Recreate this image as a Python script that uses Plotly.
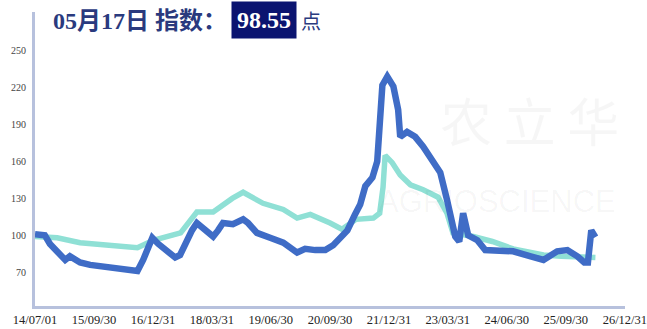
import plotly.graph_objects as go

# ---- data ----
blue_dates = ["2014-07-01","2014-09-15","2014-10-25","2014-12-05","2015-01-12","2015-02-20","2015-03-28",
              "2015-05-05","2015-06-15","2015-09-01","2015-11-15","2016-02-01","2016-04-20","2016-07-05",
              "2016-09-01","2016-10-15","2016-11-25","2016-12-25","2017-02-10","2017-04-05","2017-06-20",
              "2017-07-28","2017-09-05","2017-10-28","2017-12-05","2018-02-08","2018-04-10","2018-05-18",
              "2018-06-25","2018-09-10","2018-11-28","2019-01-05","2019-03-15","2019-06-25","2019-10-05",
              "2020-01-20","2020-03-22","2020-06-08","2020-08-25","2020-10-25","2020-12-20","2021-02-12",
              "2021-04-12","2021-05-22","2021-07-01","2021-08-25","2021-10-01","2021-11-10","2021-12-18",
              "2022-02-03","2022-03-12","2022-03-28","2022-05-20","2022-07-22","2022-09-22","2022-12-01",
              "2023-02-01","2023-03-25","2023-05-28","2023-06-28","2023-07-28","2023-09-05","2023-11-15",
              "2024-01-15","2024-04-18","2024-08-18","2025-01-01","2025-04-10","2025-07-25","2025-10-12",
              "2025-12-28","2026-02-20","2026-03-20","2026-04-15","2026-05-17"]
blue_values = [101,100,93,88,84,80,83,
               80,78,76,75,73,72,72,
               71,80,92,98,93,88,82,
               84,93,104,110,104,99,104,
               110,109,113,110,102,98,94,
               86,89,88,88,92,98,104,
               117,125,140,147,160,222,229,
               221,202,180,184,180,172,161,
               151,129,99,95,118,100,96,
               88,87,87,83,80,87,88,
               83,78,78,104,98.55]

teal_dates = ["2014-07-01","2014-12-20","2015-06-15","2016-01-10","2016-09-01","2017-01-01","2017-08-01",
              "2017-12-05","2018-04-10","2018-09-05","2018-11-28","2019-05-01","2019-10-05","2020-01-20",
              "2020-05-01","2020-10-01","2021-01-01","2021-04-20","2021-09-01","2021-10-20","2021-11-15",
              "2021-12-01","2022-01-25","2022-03-28","2022-06-15","2022-09-22","2023-01-15","2023-03-25",
              "2023-05-10","2023-10-15","2024-03-10","2024-08-18","2025-04-10","2025-08-25","2025-12-28",
              "2026-05-17"]
teal_values = [99,98,94,92,90,96,102,
               119,119,130,135,126,121,114,
               117,110,105,113,114,118,139,
               165,159,149,141,137,131,118,
               102,99,95,89,84,83,82,
               82]

tick_dates = ["2014-07-01","2015-09-30","2016-12-31","2018-03-31","2019-06-30","2020-09-30",
              "2021-12-31","2023-03-31","2024-06-30","2025-09-30","2026-12-31"]
tick_labels = ["14/07/01","15/09/30","16/12/31","18/03/31","19/06/30","20/09/30",
               "21/12/31","23/03/31","24/06/30","25/09/30","26/12/31"]
y_ticks = [70, 100, 130, 160, 190, 220, 250]

title_date = "05月17日 指数："
title_value = "98.55"
title_unit = "点"

# ---- figure ----
W, H = 647, 329
L, R, T, B = 35, 22, 12, 22.5
pw, ph = W - L - R, H - T - B

def px(x):
    return (x - L) / pw

def py(y):
    return (H - B - y) / ph

fig = go.Figure()
fig.add_trace(go.Scatter(x=teal_dates, y=teal_values, mode="lines",
                         line=dict(color="#8fe0d5", width=5.5),
                         hoverinfo="skip", showlegend=False))
fig.add_trace(go.Scatter(x=blue_dates, y=blue_values, mode="lines",
                         line=dict(color="#3f6cc6", width=6.5),
                         hoverinfo="skip", showlegend=False))

serif = "Liberation Serif, Times New Roman, Noto Sans CJK SC, serif"
ann = []
# faint watermark
ann.append(dict(x=px(438), y=py(120), xref="paper", yref="paper", text="农 立 华",
                showarrow=False, xanchor="left", yanchor="middle",
                font=dict(family="Noto Sans CJK SC", size=52, color="rgba(0,0,0,0.035)")))
ann.append(dict(x=px(376), y=py(202), xref="paper", yref="paper", text="AGRIOSCIENCE",
                showarrow=False, xanchor="left", yanchor="middle",
                font=dict(family="Liberation Sans", size=31, color="rgba(0,0,0,0.04)")))
# title
ann.append(dict(x=px(51), y=py(21), xref="paper", yref="paper", text="<b>" + title_date + "</b>",
                showarrow=False, xanchor="left", yanchor="middle",
                font=dict(family=serif, size=24, color="#2a3a7e")))
ann.append(dict(x=px(264), y=py(20), xref="paper", yref="paper", text="<b>" + title_value + "</b>",
                showarrow=False, xanchor="center", yanchor="middle", bgcolor="#0b1470",
                borderpad=5,
                font=dict(family=serif, size=24, color="white")))
ann.append(dict(x=px(299), y=py(21), xref="paper", yref="paper", text=title_unit,
                showarrow=False, xanchor="left", yanchor="middle",
                font=dict(family="Noto Sans CJK SC", size=20, color="#2a3a7e")))

fig.update_layout(
    width=W, height=H,
    margin=dict(l=L, r=R, t=T, b=B, pad=0),
    paper_bgcolor="white", plot_bgcolor="white",
    annotations=ann,
    xaxis=dict(type="date", range=["2014-07-01", "2027-01-01"],
               tickvals=tick_dates, ticktext=tick_labels, tickangle=0,
               ticklabeloverflow="allow", automargin=False,
               showgrid=False, zeroline=False, showline=True, linecolor="#b7c1dd", linewidth=3,
               ticks="", tickfont=dict(family=serif, size=12.5, color="#222")),
    yaxis=dict(range=[42.6, 281.4], tickvals=y_ticks, showgrid=False, zeroline=False,
               showline=True, linecolor="#b7c1dd", linewidth=3, ticks="",
               ticklabelstandoff=4,
               tickfont=dict(family=serif, size=10, color="#444")),
)

fig.write_html("out.html")
